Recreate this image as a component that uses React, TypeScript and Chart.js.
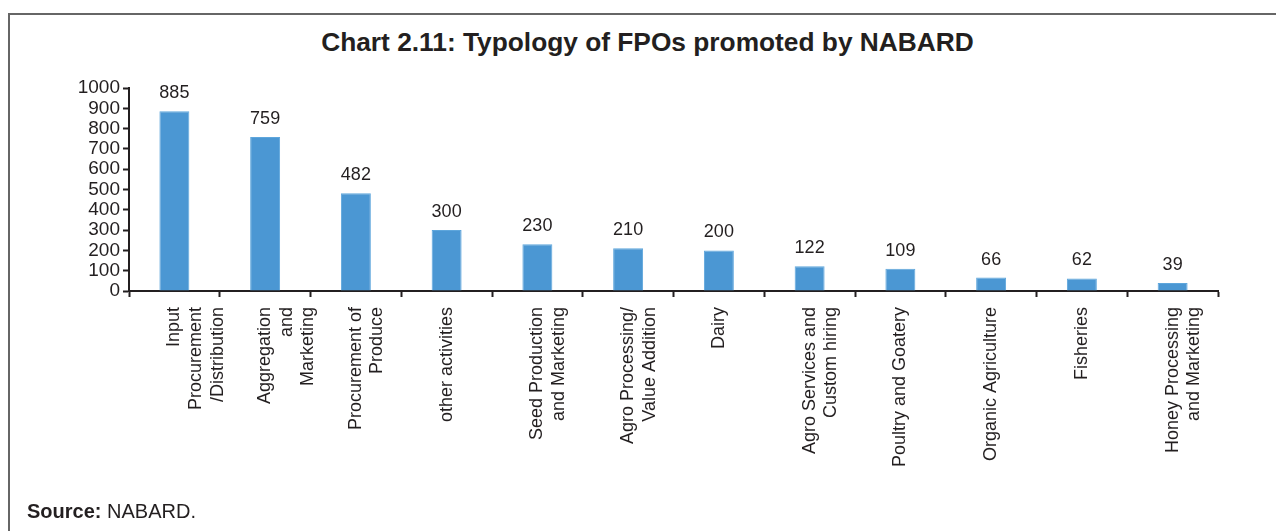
import React, { useEffect, useRef } from "react";
import { Chart, registerables } from "chart.js";

Chart.register(...registerables);

const categories: (string | string[])[] = [
  ["Input", "Procurement", "/Distribution"],
  ["Aggregation", "and", "Marketing"],
  ["Procurement of", "Produce"],
  "other activities",
  ["Seed Production", "and Marketing"],
  ["Agro Processing/", "Value Addition"],
  "Dairy",
  ["Agro Services and", "Custom hiring"],
  "Poultry and Goatery",
  "Organic Agriculture",
  "Fisheries",
  ["Honey Processing", "and Marketing"],
];

const fpoCounts: number[] = [885, 759, 482, 300, 230, 210, 200, 122, 109, 66, 62, 39];

const yTicks: number[] = [0, 100, 200, 300, 400, 500, 600, 700, 800, 900, 1000];

const TITLE = "Chart 2.11: Typology of FPOs promoted by NABARD";
const FONT = "'Liberation Sans', Arial, sans-serif";
const TEXT = "#231f20";

const valueLabels = {
  id: "valueLabels",
  afterDatasetsDraw(chart: any) {
    const ctx = chart.ctx;
    const meta = chart.getDatasetMeta(0);
    const data = chart.data.datasets[0].data as number[];
    ctx.save();
    ctx.font = `18px ${FONT}`;
    ctx.fillStyle = TEXT;
    ctx.textAlign = "center";
    ctx.textBaseline = "alphabetic";
    meta.data.forEach((bar: any, i: number) => {
      ctx.fillText(String(data[i]), bar.x, bar.y - 13);
    });
    ctx.restore();
  },
};

export default function App() {
  const canvasRef = useRef<HTMLCanvasElement | null>(null);

  useEffect(() => {
    document.body.style.overflow = "hidden";
    const canvas = canvasRef.current;
    if (!canvas) return;
    const chart = new Chart(canvas, {
      type: "bar",
      data: {
        labels: categories,
        datasets: [
          {
            data: fpoCounts,
            backgroundColor: "#4b97d3",
            borderColor: "#5ea6dc",
            borderWidth: 1,
            barPercentage: 0.33,
            categoryPercentage: 1,
          },
        ],
      },
      options: {
        animation: false,
        responsive: false,
        maintainAspectRatio: false,
        layout: { padding: { left: 0, right: 58, top: 73, bottom: 0 } },
        plugins: {
          legend: { display: false },
          title: { display: false },
          tooltip: { enabled: false },
        },
        scales: {
          x: {
            offset: true,
            grid: {
              display: true,
              offset: true,
              drawOnChartArea: false,
              drawTicks: true,
              tickLength: 6,
              tickWidth: 2,
              tickColor: TEXT,
              color: TEXT,
            },
            border: { display: true, color: TEXT, width: 2 },
            ticks: {
              autoSkip: false,
              minRotation: 90,
              maxRotation: 90,
              padding: 10,
              color: TEXT,
              font: { family: FONT, size: 18, lineHeight: 1.2 },
            },
            afterFit: (scale: any) => {
              scale.height = 240;
            },
          },
          y: {
            min: 0,
            max: 1000,
            afterBuildTicks: (scale: any) => {
              scale.ticks = yTicks.map((v) => ({ value: v }));
            },
            grid: {
              display: true,
              drawOnChartArea: false,
              drawTicks: true,
              tickLength: 6,
              tickWidth: 2,
              tickColor: TEXT,
              color: TEXT,
            },
            border: { display: true, color: TEXT, width: 2 },
            ticks: {
              autoSkip: false,
              padding: 3,
              color: TEXT,
              font: { family: FONT, size: 19 },
              callback: (value: any) => String(value),
            },
            afterFit: (scale: any) => {
              scale.width = 119;
            },
          },
        },
      },
      plugins: [valueLabels],
    });
    return () => chart.destroy();
  }, []);

  return (
    <div
      style={{
        position: "absolute",
        left: 0,
        top: 0,
        width: 1276,
        height: 531,
        overflow: "hidden",
        background: "#ffffff",
        fontFamily: FONT,
      }}
    >
      <div
        style={{
          position: "absolute",
          left: 8,
          top: 13,
          width: 1268,
          height: 518,
          boxSizing: "border-box",
          borderTop: "2px solid #666666",
          borderLeft: "2px solid #666666",
        }}
      />
      <div
        style={{
          position: "absolute",
          left: 19,
          top: 27,
          width: 1257,
          textAlign: "center",
          fontWeight: "bold",
          fontSize: 26.3,
          lineHeight: "30px",
          color: TEXT,
          whiteSpace: "nowrap",
        }}
      >
        {TITLE}
      </div>
      <canvas
        ref={canvasRef}
        width={1266}
        height={516}
        style={{ position: "absolute", left: 10, top: 15, width: 1266, height: 516 }}
      />
      <div
        style={{
          position: "absolute",
          left: 27,
          top: 501,
          fontSize: 20,
          lineHeight: "20px",
          color: TEXT,
          whiteSpace: "nowrap",
        }}
      >
        <b>Source:</b> NABARD.
      </div>
    </div>
  );
}
